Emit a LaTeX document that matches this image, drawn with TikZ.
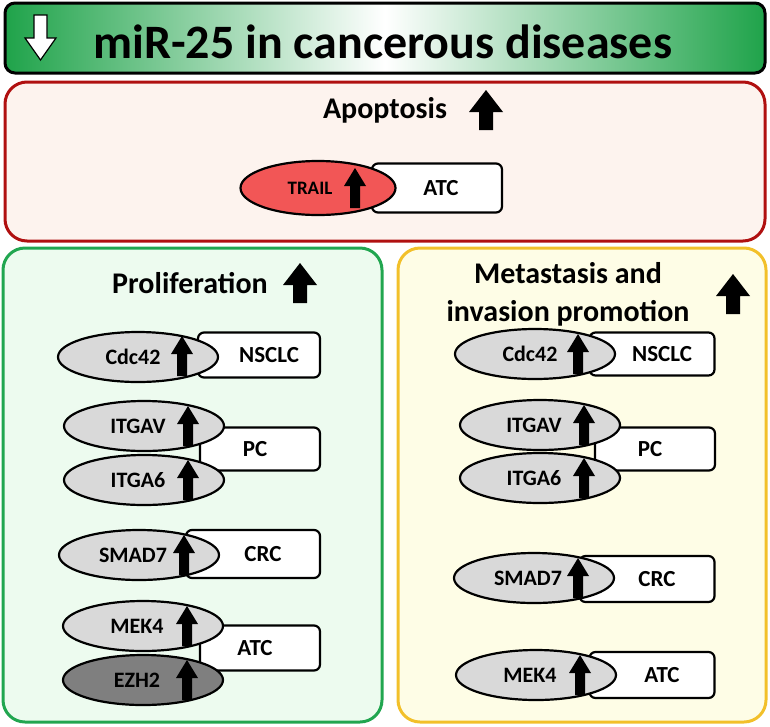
\documentclass[tikz,border=0pt]{standalone}
\usepackage{fontspec}
\setmainfont{Carlito}
\usetikzlibrary{shapes.geometric}
\definecolor{tgreen}{HTML}{1FA34A}
\definecolor{pgreen}{HTML}{21A650}
\definecolor{pfill}{HTML}{EDFBEF}
\definecolor{rborder}{HTML}{B01010}
\definecolor{rfill}{HTML}{FDF3EE}
\definecolor{yborder}{HTML}{F2C02A}
\definecolor{yfill}{HTML}{FEFDE6}
\definecolor{trail}{HTML}{F25656}
\definecolor{gene}{HTML}{D9D9D9}
\definecolor{ezh}{HTML}{7F7F7F}
\newcommand\blkup[1]{\fill[black] #1 ++(-5,20) -- ++(0,-22) -- ++(-6,0) -- ++(11,-18) -- ++(11,18) -- ++(-6,0) -- ++(0,22) -- cycle;}
\newcommand\bigup[1]{\fill[black] #1 ++(-7,20) -- ++(0,-18) -- ++(-10,0) -- ++(17,-22) -- ++(17,22) -- ++(-10,0) -- ++(0,18) -- cycle;}
\tikzset{
 panel/.style={rounded corners=22pt, line width=3pt},
 gen/.style={ellipse, draw, line width=2.2pt, fill=gene, minimum width=160pt, minimum height=50pt, inner sep=0pt, font=\bfseries\fontsize{22}{22}\selectfont},
 dis/.style={draw, line width=2.2pt, fill=white, rounded corners=6pt, font=\bfseries\fontsize{23}{23}\selectfont},
 head/.style={font=\bfseries\fontsize{30}{38}\selectfont, align=center}
}
\begin{document}
\begin{tikzpicture}[x=1pt,y=-1pt]
\useasboundingbox (0,0) rectangle (770,726);
% title
\shade[left color=tgreen,right color=tgreen,middle color=white, rounded corners=10pt] (5,3) rectangle (765,73);
\draw[line width=3pt, rounded corners=10pt, black] (5,3) rectangle (765,73);
\fill[white,draw=black,line width=1.2pt] (34,15) -- (47,15) -- (47,38) -- (56,38) -- (40.5,60) -- (25,38) -- (34,38) -- cycle;
\node[font=\bfseries\fontsize{48}{48}\selectfont, anchor=west, inner sep=0pt] (title) at (93,42) {miR-25 in cancerous diseases};
% apoptosis
\draw[panel, draw=rborder, fill=rfill] (5,82) rectangle (765,241);
\node[head] (apo) at (385,110) {Apoptosis};
\bigup{(486,110)}
\node[dis, minimum width=130pt, minimum height=49pt] (atc0) at (437,188) {\hspace*{8pt}ATC};
\node[gen, fill=trail, minimum width=155pt, minimum height=54pt, font=\bfseries\fontsize{19}{19}\selectfont] (trail) at (318,188) {\hspace*{-16pt}TRAIL};
\blkup{(355,188)}
% proliferation
\draw[panel, draw=pgreen, fill=pfill] (3,248) rectangle (382,722);
\node[head] (prol) at (190,283) {Proliferation};
\bigup{(300,283)}
% metastasis
\draw[panel, draw=yborder, fill=yfill] (398,248) rectangle (766,722);
\node[head] (meta) at (568,294) {Metastasis and\\invasion promotion};
\bigup{(733,294)}
% left
\node[dis, minimum width=122pt, minimum height=45pt] (d1) at (259,355) {\hspace*{20pt}NSCLC};
\node[gen] (g1) at (138,357) {\hspace*{-10pt}Cdc42}; \blkup{(182,356)}
\node[dis, minimum width=120pt, minimum height=43pt] (d2) at (260,449) {\hspace*{-10pt}PC};
\node[gen] (g2) at (144,426) {\hspace*{-12pt}ITGAV}; \blkup{(188,426)}
\node[gen] (g3) at (144,480) {\hspace*{-12pt}ITGA6}; \blkup{(188,480)}
\node[dis, minimum width=134pt, minimum height=48pt] (d3) at (253,554) {\hspace*{20pt}CRC};
\node[gen] (g4) at (139,555) {\hspace*{-12pt}SMAD7}; \blkup{(184,555)}
\node[dis, minimum width=120pt, minimum height=45pt] (d4) at (260,648) {\hspace*{-10pt}ATC};
\node[gen] (g5) at (143,626) {\hspace*{-12pt}MEK4}; \blkup{(187,626)}
\node[gen, fill=ezh] (g6) at (143,680) {\hspace*{-12pt}EZH2}; \blkup{(187,680)}
% right
\node[dis, minimum width=125pt, minimum height=43pt] (e1) at (652,354) {\hspace*{20pt}NSCLC};
\node[gen] (h1) at (535,354) {\hspace*{-10pt}Cdc42}; \blkup{(578,354)}
\node[dis, minimum width=120pt, minimum height=43pt] (e2) at (655,449) {\hspace*{-10pt}PC};
\node[gen] (h2) at (540,425) {\hspace*{-12pt}ITGAV}; \blkup{(584,425)}
\node[gen] (h3) at (540,478) {\hspace*{-12pt}ITGA6}; \blkup{(584,478)}
\node[dis, minimum width=135pt, minimum height=46pt] (e3) at (647,579) {\hspace*{20pt}CRC};
\node[gen] (h4) at (534,578) {\hspace*{-12pt}SMAD7}; \blkup{(578,578)}
\node[dis, minimum width=125pt, minimum height=46pt] (e4) at (652,675) {\hspace*{20pt}ATC};
\node[gen] (h5) at (536,675) {\hspace*{-12pt}MEK4}; \blkup{(580,675)}
\end{tikzpicture}
\end{document}
